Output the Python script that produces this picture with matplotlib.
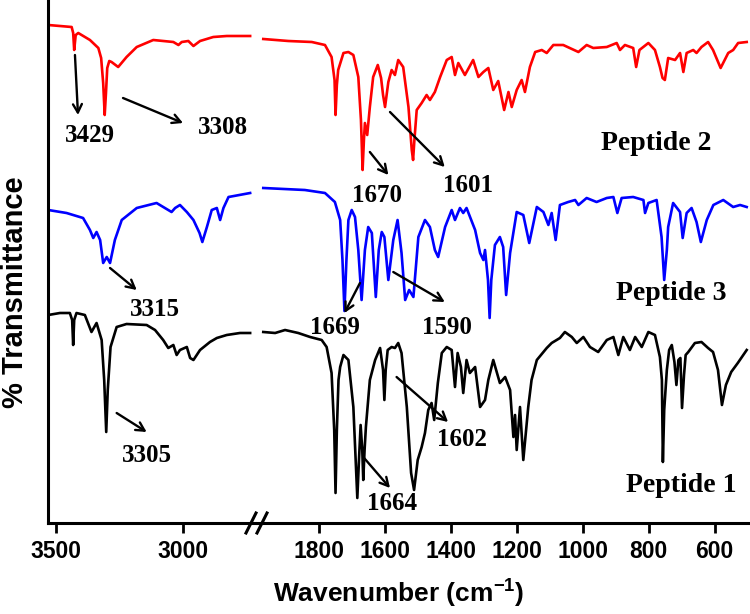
import matplotlib.pyplot as plt
from matplotlib.lines import Line2D

plt.rcParams['mathtext.fontset'] = 'custom'
plt.rcParams['mathtext.rm'] = 'Liberation Sans:bold'
plt.rcParams['mathtext.default'] = 'regular'

# --- data (transmittance in arbitrary units, spectra stacked) ---
# high wavenumber region (3530 - 2736 cm-1)
p2_hi_wn = [3530, 3438, 3432, 3428, 3422, 3412, 3366, 3333, 3322, 3314, 3308, 3303, 3298, 3290,
            3281, 3255, 3222, 3182, 3117, 3038, 3018, 3005, 2979, 2959, 2933, 2881, 2828, 2736]
p2_hi_t = [498, 496, 490, 473, 488, 490, 483, 475, 465, 440, 408, 430, 455, 462,
           461, 456, 466, 476, 483, 481, 478, 481, 482, 477, 482, 486, 487, 487]

p3_hi_wn = [3530, 3458, 3393, 3366, 3353, 3340, 3326, 3314, 3300, 3287, 3268, 3241, 3182, 3104,
            3045, 3031, 3012, 2985, 2959, 2935, 2924, 2906, 2887, 2867, 2854, 2841, 2821, 2736]
p3_hi_t = [313, 310, 305, 293, 285, 291, 283, 260, 266, 260, 283, 303, 315, 320,
           311, 315, 318, 311, 303, 290, 281, 296, 313, 315, 303, 315, 326, 330]

p1_hi_wn = [3530, 3484, 3445, 3436, 3432, 3428, 3419, 3386, 3360, 3340, 3320, 3310, 3302, 3296,
            3285, 3261, 3222, 3143, 3110, 3078, 3058, 3038, 3025, 3012, 2985, 2972, 2959, 2933,
            2894, 2867, 2828, 2776, 2736]
p1_hi_t = [208, 210, 210, 203, 178, 203, 210, 208, 191, 200, 183, 143, 91, 133,
           176, 196, 199, 198, 193, 183, 175, 178, 168, 173, 176, 165, 163, 173,
           181, 185, 188, 190, 190]

# fingerprint region (1968 - 503 cm-1)
p2_lo_wn = [1968, 1892, 1821, 1781, 1761, 1752, 1749, 1745, 1741, 1725, 1710, 1695, 1680, 1672,
            1667, 1663, 1660, 1653, 1645, 1635, 1621, 1611, 1605, 1599, 1589, 1579, 1569, 1559,
            1544, 1528, 1518, 1514, 1510, 1503, 1488, 1473, 1463, 1448, 1432, 1412, 1397, 1387,
            1377, 1357, 1332, 1316, 1301, 1286, 1271, 1256, 1238, 1225, 1215, 1200, 1185, 1175,
            1160, 1144, 1124, 1109, 1089, 1059, 1013, 988, 968, 927, 897, 887, 872, 847,
            838, 828, 801, 781, 766, 758, 751, 741, 720, 705, 695, 685, 665, 655,
            640, 620, 605, 582, 559, 544, 529, 503]
p2_lo_t = [484, 482, 481, 478, 466, 443, 408, 438, 453, 470, 471, 468, 446, 403,
           353, 383, 400, 388, 416, 446, 458, 445, 428, 416, 441, 453, 448, 463,
           456, 416, 373, 363, 383, 413, 420, 428, 423, 431, 446, 463, 466, 448,
           460, 448, 463, 446, 451, 455, 433, 442, 413, 431, 416, 433, 443, 431,
           456, 471, 473, 470, 478, 478, 471, 478, 475, 476, 480, 473, 478, 475,
           456, 473, 480, 473, 456, 445, 443, 465, 463, 470, 451, 470, 473, 470,
           476, 481, 473, 455, 470, 473, 480, 481]

p3_lo_wn = [1968, 1842, 1781, 1751, 1735, 1728, 1722, 1716, 1710, 1700, 1690, 1680, 1670, 1660,
            1650, 1639, 1627, 1618, 1609, 1601, 1589, 1574, 1561, 1549, 1538, 1526, 1513, 1498,
            1478, 1463, 1448, 1438, 1417, 1397, 1387, 1372, 1362, 1352, 1326, 1311, 1301, 1296,
            1287, 1282, 1277, 1266, 1251, 1241, 1232, 1220, 1200, 1180, 1162, 1139, 1119, 1104,
            1094, 1082, 1069, 1044, 1023, 1013, 988, 958, 927, 907, 895, 882, 847, 816,
            811, 801, 776, 761, 753, 745, 741, 726, 705, 697, 685, 670, 655, 642,
            624, 604, 574, 544, 523, 503]
p3_lo_t = [335, 333, 330, 321, 303, 263, 212, 263, 303, 313, 306, 273, 223, 273,
           296, 290, 226, 273, 291, 286, 243, 283, 303, 270, 223, 233, 226, 286,
           303, 296, 273, 266, 296, 313, 303, 315, 310, 315, 293, 270, 263, 273,
           243, 205, 243, 278, 286, 276, 228, 270, 311, 308, 280, 316, 311, 298,
           310, 283, 318, 321, 323, 318, 325, 321, 325, 326, 310, 325, 326, 323,
           310, 320, 323, 286, 243, 273, 296, 320, 311, 285, 310, 315, 301, 281,
           303, 318, 323, 316, 318, 316]

p1_lo_wn = [1968, 1932, 1902, 1862, 1826, 1791, 1776, 1761, 1753, 1749, 1745, 1740, 1735, 1725,
            1710, 1695, 1688, 1683, 1678, 1673, 1668, 1665, 1661, 1657, 1645, 1629, 1614, 1605,
            1601, 1597, 1591, 1579, 1569, 1559, 1549, 1533, 1520, 1511, 1500, 1488, 1478, 1468,
            1458, 1450, 1439, 1427, 1412, 1397, 1387, 1379, 1369, 1362, 1352, 1342, 1326, 1311,
            1296, 1286, 1271, 1251, 1235, 1220, 1210, 1205, 1200, 1190, 1180, 1165, 1155, 1139,
            1109, 1094, 1069, 1054, 1033, 1018, 998, 978, 953, 927, 907, 892, 877, 857,
            841, 821, 801, 781, 766, 760, 757, 753, 745, 738, 730, 722, 716, 710,
            704, 699, 693, 688, 680, 660, 640, 620, 605, 590, 578, 566, 550, 530, 503]
p1_lo_t = [191, 190, 193, 190, 186, 183, 176, 150, 93, 30, 93, 143, 156, 168,
           163, 116, 63, 25, 63, 98, 73, 43, 73, 96, 143, 163, 175, 153,
           123, 153, 173, 176, 175, 180, 170, 116, 50, 33, 63, 76, 90, 113,
           120, 103, 140, 170, 176, 173, 136, 170, 156, 130, 163, 150, 156, 116,
           123, 143, 163, 140, 146, 133, 86, 108, 73, 116, 63, 116, 143, 163,
           175, 180, 185, 191, 186, 180, 186, 176, 171, 183, 186, 168, 186, 173,
           186, 176, 191, 188, 166, 143, 61, 113, 153, 173, 178, 161, 138, 163,
           165, 115, 148, 168, 171, 180, 181, 175, 171, 153, 118, 138, 151, 160, 173]

hi_ticks = [3500, 3000]
lo_ticks = [1800, 1600, 1400, 1200, 1000, 800, 600]

# peak labels: (text, text_wn, text_t, arrow_from_wn, arrow_from_t, arrow_to_wn, arrow_to_t)
hi_labels = [("3429", 3366, 388, 3425, 468, 3413, 408),
             ("3308", 2843, 396, 3236, 425, 3000, 400),
             ("3315", 3110, 213, 3287, 255, 3182, 233),
             ("3305", 3143, 68, 3261, 110, 3143, 91)]
lo_labels = [("1670", 1624, 328, 1645, 371, 1589, 348),
             ("1601", 1347, 338, 1584, 411, 1418, 356),
             ("1669", 1751, 196, 1675, 240, 1722, 210),
             ("1590", 1412, 196, 1574, 251, 1418, 221),
             ("1664", 1579, 20, 1665, 66, 1584, 35),
             ("1602", 1367, 83, 1564, 146, 1408, 101)]
names = [("Peptide 2", 776, 380), ("Peptide 3", 731, 230), ("Peptide 1", 701, 38)]

W, H = 750, 614
fig = plt.figure(figsize=(W / 100, H / 100), dpi=100)
bottom = (H - 523) / H
height = 523 / H
ax1 = fig.add_axes([48 / W, bottom, (257 - 48) / W, height])
ax2 = fig.add_axes([257 / W, bottom, (750 - 257) / W, height])

lw = 1.9
ax1.plot(p2_hi_wn, p2_hi_t, color='#ff0000', lw=lw)
ax1.plot(p3_hi_wn, p3_hi_t, color='#0000ff', lw=lw)
ax1.plot(p1_hi_wn, p1_hi_t, color='black', lw=lw)
ax2.plot(p2_lo_wn, p2_lo_t, color='#ff0000', lw=lw)
ax2.plot(p3_lo_wn, p3_lo_t, color='#0000ff', lw=lw)
ax2.plot(p1_lo_wn, p1_lo_t, color='black', lw=lw)

ax1.set_xlim(3531, 2709)
ax2.set_xlim(1987, 493)
ax1.set_xticks(hi_ticks)
ax2.set_xticks(lo_ticks)
for ax in (ax1, ax2):
    ax.set_ylim(0, 523)
    ax.set_yticks([])
    ax.spines['top'].set_visible(False)
    ax.spines['right'].set_visible(False)
    ax.spines['bottom'].set_linewidth(2.2)
    ax.spines['left'].set_linewidth(2.2)
    ax.tick_params(axis='x', direction='out', length=7, width=2, pad=5)
    for lab in ax.get_xticklabels():
        lab.set_fontfamily('Liberation Sans')
        lab.set_fontweight('bold')
        lab.set_fontsize(16.5)
ax2.spines['left'].set_visible(False)

arrow = dict(arrowstyle='->,head_length=0.6,head_width=0.32', color='black', lw=1.7,
             shrinkA=0, shrinkB=0)
num_font = dict(family='Liberation Serif', weight='bold', size=18)
for ax, labels in ((ax1, hi_labels), (ax2, lo_labels)):
    for txt, tx, ty, ax0, ay0, ax_1, ay_1 in labels:
        ax.annotate('', xy=(ax_1, ay_1), xytext=(ax0, ay0), arrowprops=arrow)
        ax.text(tx, ty, txt, ha='center', va='center', **num_font)

for txt, tx, ty in names:
    ax2.text(tx, ty, txt, ha='center', va='center', family='Liberation Serif',
             weight='bold', size=20)

# axis break marks
for x0 in (246, 257):
    fig.add_artist(Line2D([x0 / W, (x0 + 10) / W], [(H - 533) / H, (H - 513) / H],
                          color='black', lw=2.2))

fig.text(399 / W, 11 / H, r'Wavenumber (cm$^{-1}$)', ha='center', va='baseline',
         family='Liberation Sans', weight='bold', size=19)
fig.text(15 / W, (H - 292) / H, '% Transmittance', ha='center', va='center', rotation=90,
         family='Liberation Sans', weight='bold', size=21)

fig.savefig('out.png', dpi=100)
